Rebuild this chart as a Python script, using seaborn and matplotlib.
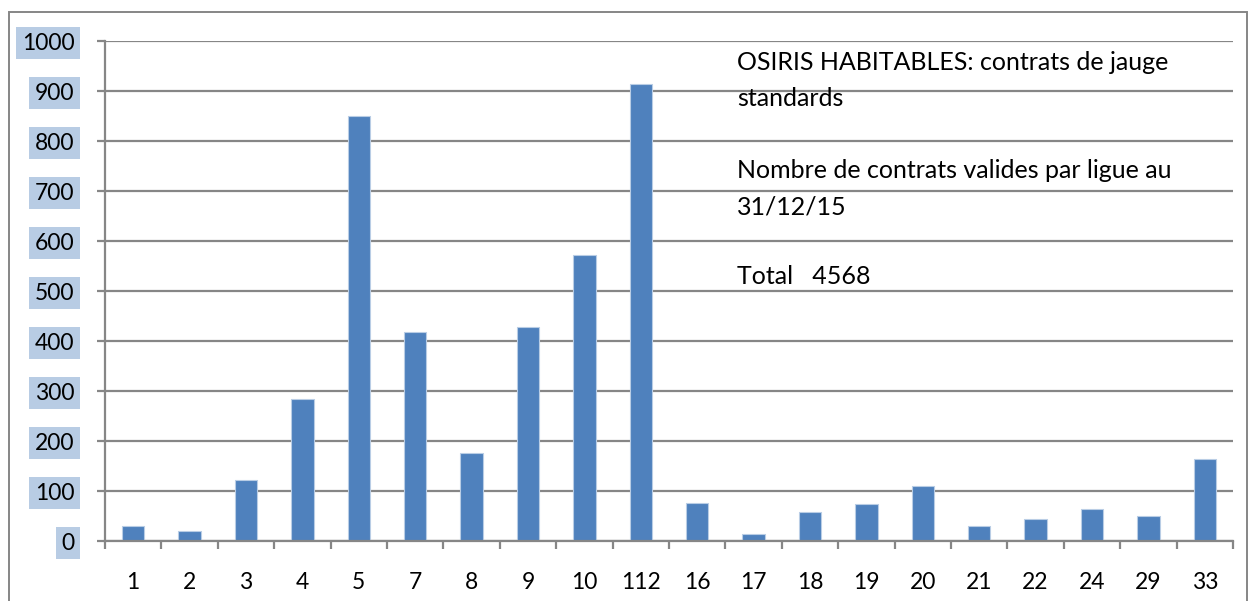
import numpy as np
import pandas as pd

import matplotlib.pyplot as plt
import seaborn as sns
from matplotlib.patches import Rectangle
from matplotlib.ticker import FixedLocator

sns.set_theme(style="white", rc={"font.family": "Lato"})
plt.rcParams['font.family'] = ['Lato', 'DejaVu Sans']

ligues = ["1", "2", "3", "4", "5", "7", "8", "9", "10", "112",
          "16", "17", "18", "19", "20", "21", "22", "24", "29", "33"]
contrats = [30, 21, 123, 285, 851, 418, 177, 428, 572, 915,
            77, 15, 59, 75, 111, 31, 45, 65, 50, 165]
y_ticks = [0, 100, 200, 300, 400, 500, 600, 700, 800, 900, 1000]

bar_color = "#4f81bd"
grid_color = "#868686"

df = pd.DataFrame({"ligue": ligues, "contrats": contrats})

fig = plt.figure(figsize=(12.5, 6.01), dpi=100)
ax = fig.add_axes([105 / 1250, 1 - 541 / 601, (1233 - 105) / 1250, 500 / 601])

sns.barplot(data=df, x="ligue", y="contrats", order=ligues, color=bar_color,
            width=0.4, saturation=1, edgecolor="#b9cde5", linewidth=0.8, ax=ax)

ax.set_xlim(-0.5, len(ligues) - 0.5)
ax.set_ylim(0, 1000)
ax.set_yticks(y_ticks)
ax.set_xlabel("")
ax.set_ylabel("")

# gridlines
ax.yaxis.grid(True, color=grid_color, linewidth=1.6)
ax.set_axisbelow(True)

for side in ["top", "right"]:
    ax.spines[side].set_visible(False)
for side in ["left", "bottom"]:
    ax.spines[side].set_color(grid_color)
    ax.spines[side].set_linewidth(1.6)

# ticks
ax.tick_params(axis="y", which="major", direction="out", length=6, width=1.6,
               color=grid_color, left=True, pad=16, labelsize=16.5, labelcolor="black")
ax.tick_params(axis="x", which="major", length=0, pad=22, labelsize=16.5, labelcolor="black")
ax.xaxis.set_minor_locator(FixedLocator(np.arange(-0.5, len(ligues), 1.0)))
ax.tick_params(axis="x", which="minor", direction="out", length=6, width=1.6,
               color=grid_color, bottom=True)

for lab in ax.get_yticklabels():
    lab.set_bbox(dict(facecolor="#b8cce4", edgecolor="none", pad=4))

# annotation text
tx = 737 / 1250
lines = [
    ("OSIRIS HABITABLES: contrats de jauge", 63),
    ("standards", 98),
    ("Nombre de contrats valides par ligue au", 170),
    ("31/12/15", 207),
    ("Total   4568", 277),
]
for txt, ypix in lines:
    fig.text(tx, 1 - ypix / 601, txt, fontsize=18, ha="left", va="center", color="black")

# outer chart border
fig.patches.append(Rectangle((9 / 1250, -0.05), (1247 - 9) / 1250, 1.05 - 12 / 601,
                             transform=fig.transFigure, fill=False,
                             edgecolor=grid_color, linewidth=1.4))

fig.savefig("out.png", dpi=100)
